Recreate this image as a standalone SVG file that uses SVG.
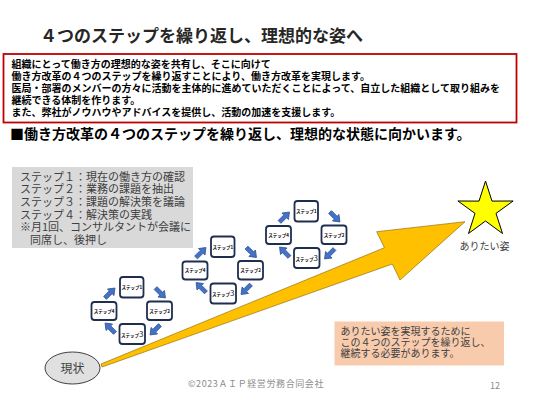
<svg xmlns="http://www.w3.org/2000/svg" xmlns:xlink="http://www.w3.org/1999/xlink" width="540" height="405" viewBox="0 0 540 405">
<style>
text{font-family:"Noto Sans CJK JP","Noto Sans",sans-serif}
.title{font-size:17px;font-weight:bold;fill:#262626}
.box{font-size:10px;font-weight:bold;fill:#000}
.sub{font-size:14px;font-weight:bold;fill:#000}
.gray{font-size:11px;fill:#404040}
.step{fill:#fff;stroke:#1F2D4E;stroke-width:1.8}
.sl{font-size:4.5px;font-weight:bold;fill:#000;text-anchor:middle}
.big{font-size:8px;font-weight:normal;fill:#222}
.note{font-size:10px;fill:#404040}
.foot{font-size:9px;fill:#8C8C8C}
</style>
<defs>
<polygon id="sa" points="-7,-2 1,-2 1,-4.6 7,0 1,4.6 1,2 -7,2" fill="#4472C4" stroke="#2F5597" stroke-width="0.8"/>
</defs>
<rect width="540" height="405" fill="#fff"/>
<text class="title" x="40" y="41.5">４つのステップを繰り返し、理想的な姿へ</text>
<rect x="3.5" y="54" width="513" height="68.5" fill="#fff" stroke="#C00000" stroke-width="1.8"/>
<text class="box" x="11.5" y="67.5">組織にとって働き方の理想的な姿を共有し、そこに向けて</text>
<text class="box" x="11.5" y="79.5">働き方改革の４つのステップを繰り返すことにより、働き方改革を実現します。</text>
<text class="box" x="11.5" y="91.5">医局・部署のメンバーの方々に活動を主体的に進めていただくことによって、自立した組織として取り組みを</text>
<text class="box" x="11.5" y="103.5">継続できる体制を作ります。</text>
<text class="box" x="11.5" y="115.5">また、弊社がノウハウやアドバイスを提供し、活動の加速を支援します。</text>
<text class="sub" x="10" y="139">■働き方改革の４つのステップを繰り返し、理想的な状態に向かいます。</text>
<g id="legend">
<rect x="12" y="167" width="181" height="81" fill="#D9D9D9"/>
<text class="gray" x="20" y="180.5">ステップ１：現在の働き方の確認</text>
<text class="gray" x="20" y="193.2">ステップ２：業務の課題を抽出</text>
<text class="gray" x="20" y="205.9">ステップ３：課題の解決策を議論</text>
<text class="gray" x="20" y="218.6">ステップ４：解決策の実践</text>
<text class="gray" x="20" y="231.3">※月1回、コンサルタントが会議に</text>
<text class="gray" x="30" y="244">同席し、後押し</text>
</g>
<g id="connectors">
<polygon points="101,364 384.4,247.7 376.7,231.7 465,221.7 400,280 392.3,264 102,367" fill="#FFC000" stroke="#7F6000" stroke-width="0.6"/>
<g>
<use xlink:href="#sa" transform="translate(110,293) rotate(-45)"/>
<use xlink:href="#sa" transform="translate(160.5,293) rotate(45)"/>
<use xlink:href="#sa" transform="translate(155,330) rotate(135)"/>
<use xlink:href="#sa" transform="translate(110,328) rotate(-135)"/>
</g>
<g transform="translate(91,-40.5)">
<use xlink:href="#sa" transform="translate(110,293) rotate(-45)"/>
<use xlink:href="#sa" transform="translate(160.5,293) rotate(45)"/>
<use xlink:href="#sa" transform="translate(155,330) rotate(135)"/>
<use xlink:href="#sa" transform="translate(110,328) rotate(-135)"/>
</g>
<g transform="translate(174.5,-76)">
<use xlink:href="#sa" transform="translate(110,293) rotate(-45)"/>
<use xlink:href="#sa" transform="translate(160.5,293) rotate(45)"/>
<use xlink:href="#sa" transform="translate(155,330) rotate(135)"/>
<use xlink:href="#sa" transform="translate(110,328) rotate(-135)"/>
</g>
</g>
<g id="c1s1"><rect class="step" x="120" y="277" width="23.5" height="20.5" rx="3"/><text class="sl" x="131.75" y="289">ステップ1</text></g>
<g id="c1s2"><rect class="step" x="147" y="301.5" width="25" height="18.5" rx="3"/><text class="sl" x="159.5" y="312.5">ステップ2</text></g>
<g id="c1s3"><rect class="step" x="119.5" y="324" width="25.5" height="20" rx="3"/><text class="sl" x="132.25" y="336.8">ステップ<tspan class="big">3</tspan></text></g>
<g id="c1s4"><rect class="step" x="91.5" y="302" width="25" height="18" rx="3"/><text class="sl" x="104" y="312.7">ステップ4</text></g>
<g transform="translate(91,-40.5)">
<g id="c2s1"><rect class="step" x="120" y="277" width="23.5" height="20.5" rx="3"/><text class="sl" x="131.75" y="289">ステップ1</text></g>
<g id="c2s2"><rect class="step" x="147" y="301.5" width="25" height="18.5" rx="3"/><text class="sl" x="159.5" y="312.5">ステップ2</text></g>
<g id="c2s3"><rect class="step" x="119.5" y="324" width="25.5" height="20" rx="3"/><text class="sl" x="132.25" y="336.8">ステップ<tspan class="big">3</tspan></text></g>
<g id="c2s4"><rect class="step" x="91.5" y="302" width="25" height="18" rx="3"/><text class="sl" x="104" y="312.7">ステップ4</text></g>
</g>
<g transform="translate(174.5,-76)">
<g id="c3s1"><rect class="step" x="120" y="277" width="23.5" height="20.5" rx="3"/><text class="sl" x="131.75" y="289">ステップ1</text></g>
<g id="c3s2"><rect class="step" x="147" y="301.5" width="25" height="18.5" rx="3"/><text class="sl" x="159.5" y="312.5">ステップ2</text></g>
<g id="c3s3"><rect class="step" x="119.5" y="324" width="25.5" height="20" rx="3"/><text class="sl" x="132.25" y="336.8">ステップ<tspan class="big">3</tspan></text></g>
<g id="c3s4"><rect class="step" x="91.5" y="302" width="25" height="18" rx="3"/><text class="sl" x="104" y="312.7">ステップ4</text></g>
</g>
<g id="start">
<ellipse cx="72.5" cy="368" rx="27.5" ry="16" fill="#E0E0E0" stroke="#404040" stroke-width="1"/>
<text x="72.5" y="372.5" font-size="12" fill="#404040" text-anchor="middle">現状</text>
</g>
<g id="goal">
<polygon points="485.5,181 492.0,201.1 513.1,201.0 496.0,213.4 502.5,233.5 485.5,221.0 468.5,233.5 475.0,213.4 457.9,201.0 479.0,201.1" fill="#FFFF00" stroke="#000" stroke-width="1"/>
<text class="note" x="484.5" y="250" text-anchor="middle">ありたい姿</text>
</g>
<g id="note">
<rect x="334.5" y="321.5" width="169.5" height="44" fill="#F8CBAD"/>
<text class="note" x="340.5" y="334.5">ありたい姿を実現するために</text>
<text class="note" x="340.5" y="345.5">この４つのステップを繰り返し、</text>
<text class="note" x="340.5" y="356.5">継続する必要があります。</text>
</g>
<text class="foot" x="188" y="387" letter-spacing="0.6">©2023ＡＩＰ経営労務合同会社</text>
<text class="foot" x="490" y="389">12</text>
</svg>
